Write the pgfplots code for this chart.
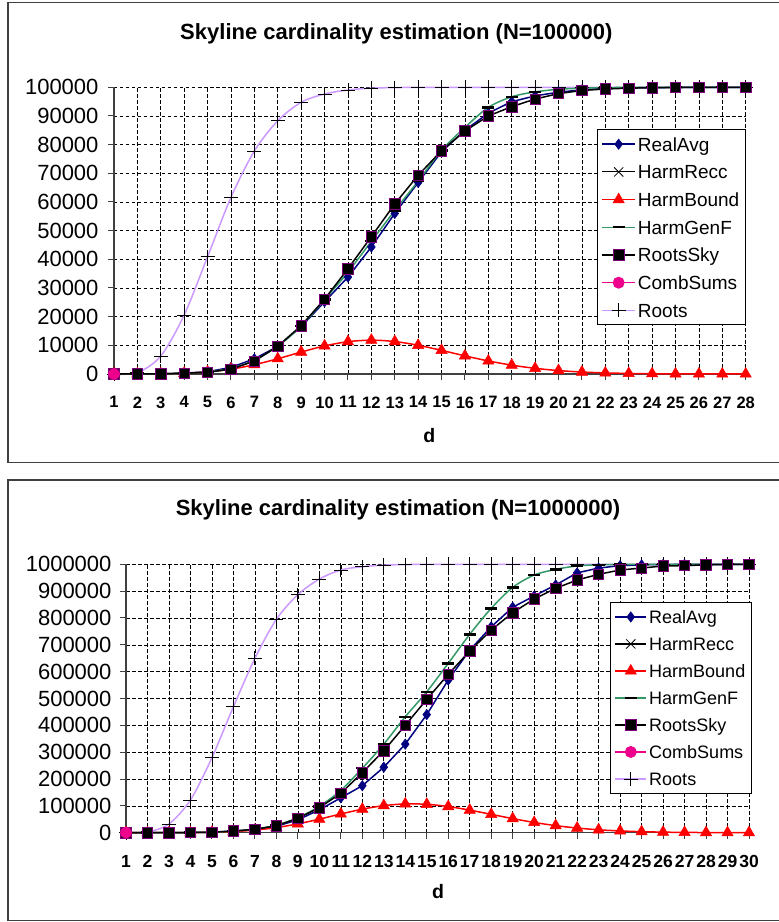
\documentclass[border=0pt]{standalone}
\usepackage{pgfplots}
\pgfplotsset{compat=1.18}
\usepackage{fontspec}
\setmainfont{Liberation Sans}
\definecolor{navyc}{RGB}{0,0,128}
\definecolor{seag}{RGB}{51,153,102}
\definecolor{lav}{RGB}{204,153,255}
\definecolor{purp}{RGB}{128,0,128}
\definecolor{axg}{RGB}{64,64,64}
\pgfplotsset{
  realavg/.style={navyc, line width=1.5pt, mark=diamond*, mark size=5.2pt, mark options={solid, fill=navyc, draw=navyc, line width=0.5pt}},
  harmrecc/.style={black, line width=1.2pt, mark=x, mark size=6.5pt, mark options={solid, black, line width=0.8pt}},
  harmbound/.style={red, line width=1.5pt, smooth, mark=triangle*, mark size=6.5pt, mark options={solid, fill=red, draw=red, line width=0.5pt}},
  harmgenf/.style={seag, line width=1.5pt, smooth, mark=-, mark size=6pt, mark options={solid, black, line width=2.4pt}},
  rootssky/.style={black, line width=1.5pt, mark=square*, mark size=5.2pt, mark options={solid, fill=black, draw=purp, line width=0.7pt}},
  combsums/.style={magenta, line width=1.5pt, mark=*, mark size=5.2pt, mark options={solid, fill=magenta, draw=magenta}},
  roots/.style={lav, line width=1.5pt, smooth, mark=+, mark size=7pt, mark options={solid, black, line width=0.8pt}},
  skyaxis/.style={
    anchor=south west, scale only axis,
    axis lines=left, axis line style={-, line width=1.3pt, axg},
    tick align=outside, major tick length=6pt, tick style={axg, line width=1pt},
    grid=major, grid style={dash pattern=on 3.5pt off 2.5pt, black, line width=0.6pt},
    scaled y ticks=false, clip=false,
    /pgf/number format/assume math mode=true,
    yticklabel={\pgfmathprintnumber[fixed, precision=0, 1000 sep={}, assume math mode=true]{\tick}},
    xticklabel={\pgfmathprintnumber[fixed, precision=0, 1000 sep={}, assume math mode=true]{\tick}},
    yticklabel style={font=\fontsize{22}{22}\selectfont, xshift=-6pt},
    xticklabel style={font=\bfseries\fontsize{16.5}{16.5}\selectfont, yshift=-13pt},
    title style={anchor=base, font=\bfseries\fontsize{22}{22}\selectfont},
    xlabel style={anchor=base, font=\bfseries\fontsize{19.5}{19.5}\selectfont},
    legend cell align=left,
    legend image code/.code={\draw[mark repeat=2,mark phase=2,##1] plot coordinates {(0pt,0pt) (16.5pt,0pt) (33pt,0pt)};},
    legend style={anchor=north east, draw=black, line width=0.8pt, fill=white,
      font=\fontsize{19}{19}\selectfont, row sep=2.7pt, inner xsep=4pt, inner ysep=2pt,
      nodes={inner sep=2pt, text height=17.5pt, text depth=3.5pt}},
  },
}
\begin{document}
\begin{tikzpicture}
\path[use as bounding box] (0pt,0pt) rectangle (779pt,922pt);
\draw[line width=1.3pt, axg] (8pt,459.5pt) rectangle (800pt,919.3pt);
\draw[line width=1.3pt, axg] (8pt,1.3pt) rectangle (800pt,442pt);

% ---------- top: N = 100000 ----------
\begin{axis}[skyaxis,
  at={(114pt,548pt)}, width=631.7pt, height=286.7pt,
  xmin=1, xmax=28, ymin=0, ymax=100000,
  xtick={1,...,28}, ytick={0,10000,...,100000},
  title={Skyline cardinality estimation (N=100000)},
  title style={at={(axis description cs:0.447,1.145)}},
  xlabel={d}, xlabel style={at={(axis description cs:0.499,-0.238)}},
  legend style={at={(axis description cs:1,0.8535)}},
]
\addplot[roots, forget plot] coordinates {(1,1) (2,450) (3,6280) (4,20580) (5,40900) (6,61630) (7,77780) (8,88350) (9,94770) (10,97660) (11,99060) (12,99700) (13,99900) (14,99970) (15,100000) (16,100000) (17,100000) (18,100000) (19,100000) (20,100000) (21,100000) (22,100000) (23,100000) (24,100000) (25,100000) (26,100000) (27,100000) (28,100000)};
\addplot[realavg] coordinates {(1,1) (2,12) (3,70) (4,270) (5,800) (6,2300) (7,5300) (8,9600) (9,16500) (10,25200) (11,33800) (12,44300) (13,56000) (14,66800) (15,77500) (16,85000) (17,91000) (18,95000) (19,97000) (20,98300) (21,99100) (22,99600) (23,99800) (24,99900) (25,99950) (26,100000) (27,100000) (28,100000)};
\addlegendentry{RealAvg}
\addplot[harmrecc] coordinates {(1,1) (2,12) (3,66)};
\addlegendentry{HarmRecc}
\addplot[harmbound] coordinates {(1,1) (2,11.5) (3,66.3) (4,254) (5,732) (6,1686) (7,3234) (8,5319) (9,7655) (10,9792) (11,11274) (12,11800) (13,11321) (14,10026) (15,8245) (16,6328) (17,4553) (18,3084) (19,1972) (20,1195) (21,688) (22,377) (23,197) (24,99) (25,47) (26,22) (27,10) (28,4)};
\addlegendentry{HarmBound}
\addplot[harmgenf] coordinates {(1,1) (2,12) (3,70) (4,270) (5,760) (6,1950) (7,4800) (8,9700) (9,16800) (10,26000) (11,35500) (12,46300) (13,57000) (14,67300) (15,78000) (16,86000) (17,93000) (18,96700) (19,98400) (20,99300) (21,99700) (22,99900) (23,99950) (24,100000) (25,100000) (26,100000) (27,100000) (28,100000)};
\addlegendentry{HarmGenF}
\addplot[rootssky] coordinates {(1,1) (2,12) (3,70) (4,260) (5,600) (6,1700) (7,4500) (8,9700) (9,16850) (10,26100) (11,36700) (12,47900) (13,59300) (14,69300) (15,77900) (16,84760) (17,90000) (18,93240) (19,95900) (20,97800) (21,98900) (22,99400) (23,99700) (24,99850) (25,99900) (26,100000) (27,100000) (28,100000)};
\addlegendentry{RootsSky}
\addplot[combsums] coordinates {(1,1)};
\addlegendentry{CombSums}
\addlegendimage{roots}
\addlegendentry{Roots}
\end{axis}

% ---------- bottom: N = 1000000 ----------
\begin{axis}[skyaxis,
  at={(126pt,89.3pt)}, width=623pt, height=268.4pt,
  xmin=1, xmax=30, ymin=0, ymax=1000000,
  xtick={1,...,30}, ytick={0,100000,...,1000000},
  yticklabel style={xshift=1pt},
  xticklabel style={font=\bfseries\fontsize{17.5}{17.5}\selectfont},
  title={Skyline cardinality estimation (N=1000000)},
  title style={at={(axis description cs:0.4366,1.158)}},
  xlabel={d}, xlabel style={at={(axis description cs:0.5008,-0.2444)}},
  legend style={at={(axis description cs:1.0043,0.8584)}, font=\fontsize{18}{18}\selectfont, row sep=2.5pt,
    nodes={inner sep=2pt, text height=17pt, text depth=3.5pt}},
  legend image code/.code={\draw[mark repeat=2,mark phase=2,#1] plot coordinates {(0pt,0pt) (15.7pt,0pt) (31.4pt,0pt)};},
]
\addplot[roots, forget plot] coordinates {(1,1) (2,2500) (3,32400) (4,121800) (5,279400) (6,469400) (7,649800) (8,795000) (9,887000) (10,945000) (11,978800) (12,991000) (13,997000) (14,999000) (15,999700) (16,1000000) (17,1000000) (18,1000000) (19,1000000) (20,1000000) (21,1000000) (22,1000000) (23,1000000) (24,1000000) (25,1000000) (26,1000000) (27,1000000) (28,1000000) (29,1000000) (30,1000000)};
\addplot[realavg] coordinates {(1,1) (2,14) (3,100) (4,520) (5,1900) (6,5500) (7,12000) (8,24000) (9,48000) (10,85000) (11,130000) (12,175000) (13,244000) (14,330000) (15,440000) (16,569000) (17,680000) (18,767000) (19,840000) (20,882000) (21,923000) (22,968000) (23,986000) (24,995000) (25,998000) (26,999000) (27,999500) (28,1000000) (29,1000000) (30,1000000)};
\addlegendentry{RealAvg}
\addplot[harmrecc] coordinates {(1,1) (2,14)};
\addlegendentry{HarmRecc}
\addplot[harmbound] coordinates {(1,1) (2,13.8) (3,95.4) (4,439) (5,1518) (6,4193) (7,9655) (8,19055) (9,32907) (10,50514) (11,69788) (12,87651) (13,100912) (14,107242) (15,105829) (16,97471) (17,84163) (18,68398) (19,52498) (20,38173) (21,26369) (22,17348) (23,10894) (24,6544) (25,3767) (26,2082) (27,1106) (28,566) (29,279) (30,133)};
\addlegendentry{HarmBound}
\addplot[harmgenf] coordinates {(1,1) (2,14) (3,100) (4,500) (5,1900) (6,5800) (7,13500) (8,28000) (9,56000) (10,98000) (11,158000) (12,240000) (13,330000) (14,432000) (15,525000) (16,631000) (17,739000) (18,836000) (19,914000) (20,960000) (21,981000) (22,994000) (23,998000) (24,999500) (25,1000000) (26,1000000) (27,1000000) (28,1000000) (29,1000000) (30,1000000)};
\addlegendentry{HarmGenF}
\addplot[rootssky] coordinates {(1,1) (2,14) (3,100) (4,600) (5,2000) (6,6300) (7,12600) (8,26000) (9,53600) (10,93200) (11,146800) (12,223600) (13,305500) (14,400100) (15,497000) (16,590000) (17,677000) (18,755000) (19,819700) (20,870700) (21,910500) (22,941500) (23,962700) (24,978800) (25,986000) (26,993700) (27,995000) (28,998000) (29,999000) (30,1000000)};
\addlegendentry{RootsSky}
\addplot[combsums] coordinates {(1,1)};
\addlegendentry{CombSums}
\addlegendimage{roots}
\addlegendentry{Roots}
\end{axis}
\end{tikzpicture}
\end{document}
